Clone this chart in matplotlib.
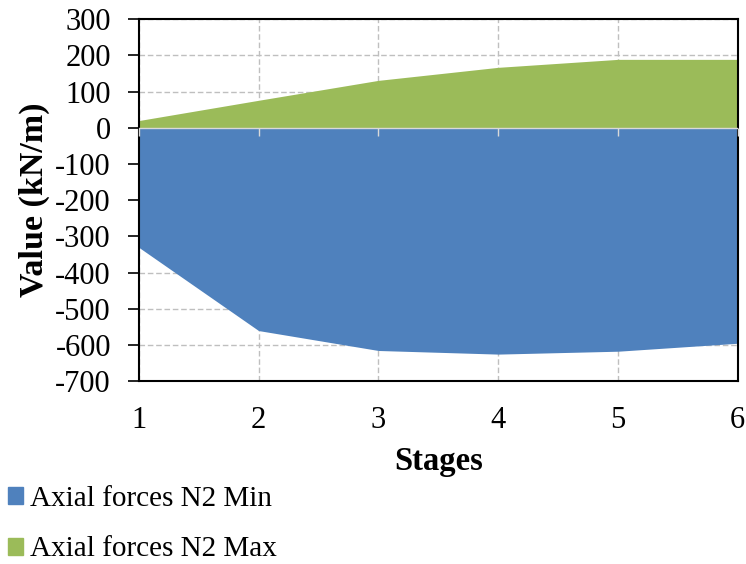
import matplotlib.pyplot as plt
from matplotlib.patches import Patch

plt.rcParams['font.family'] = ['Liberation Serif', 'DejaVu Serif']
plt.rcParams['axes.unicode_minus'] = False

stages = [1, 2, 3, 4, 5, 6]
n2_min = [-330, -560, -615, -625, -617, -595]
n2_max = [20, 76, 131, 167, 189, 189]

fig = plt.figure(figsize=[7.46, 5.64], dpi=100)
ax = fig.add_axes([0.186, 0.324, 0.803, 0.642])

ax.fill_between(stages, 0, n2_min, color='#4F81BD', linewidth=0, zorder=2)
ax.fill_between(stages, 0, n2_max, color='#9BBB59', linewidth=0, zorder=2)
# category axis crossing at zero, with its tick marks
ax.axhline(0, color='#d9d9d9', linewidth=1, zorder=3)
ax.plot(stages, [0] * len(stages), linestyle='none', marker=3,
        markersize=6, markeredgewidth=1, color='#d9d9d9', zorder=3,
        clip_on=False)

ax.set_xlim(1, 6)
ax.set_ylim(-700, 300)
ax.set_yticks(range(-700, 301, 100))
ax.set_xticks(stages)
ax.grid(True, linestyle=(0, (4, 2)), color='#bfbfbf', linewidth=1, zorder=0)
ax.set_axisbelow(True)
ax.tick_params(axis='y', labelsize=22, length=8, width=1.2, pad=12)
ax.tick_params(axis='x', labelsize=22, length=0, pad=18)
for s in ax.spines.values():
    s.set_linewidth(1.5)
    s.set_color('black')

ax.set_xlabel('Stages', size=23.5, weight='bold', labelpad=8)
ax.set_ylabel('Value (kN/m)', size=24.5, weight='bold', labelpad=4)

handles = [Patch(color='#4F81BD', label='Axial forces N2 Min'),
           Patch(color='#9BBB59', label='Axial forces N2 Max')]
fig.legend(handles=handles, loc='upper left', bbox_to_anchor=(0.011, 0.139),
           frameon=False, fontsize=21, handlelength=0.52, handleheight=0.52,
           handletextpad=0.24, labelspacing=0.85, borderpad=0,
           borderaxespad=0)

fig.savefig('out.png', dpi=100)
